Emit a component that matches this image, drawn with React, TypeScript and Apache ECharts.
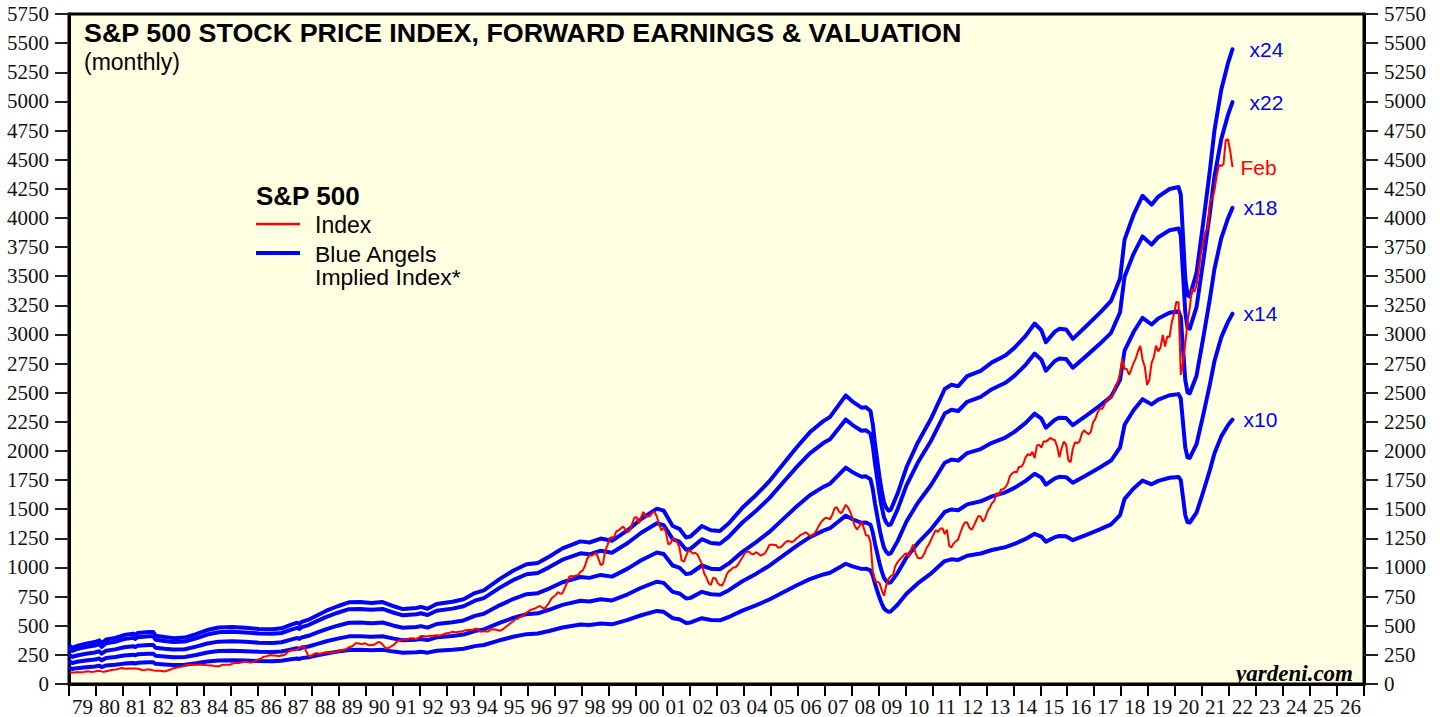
import React, { useEffect, useRef } from "react";
import * as echarts from "echarts";

const yearLabels = [
  "79","80","81","82","83","84","85","86","87","88","89","90","91","92","93","94",
  "95","96","97","98","99","00","01","02","03","04","05","06","07","08","09","10",
  "11","12","13","14","15","16","17","18","19","20","21","22","23","24","25","26",
];

const spxStartYear = 1979;
// S&P 500 index, monthly averages, Jan 1979 .. Feb 2022
const spxMonthly = [
  98, 98, 99, 102, 100, 101, 103, 107, 109, 106, 104, 107,
  111, 114, 108, 104, 109, 113, 118, 122, 124, 127, 134, 138,
  133, 130, 134, 134, 133, 132, 131, 127, 120, 119, 124, 125,
  122, 117, 113, 114, 114, 111, 108, 113, 120, 127, 136, 140,
  143, 147, 151, 159, 163, 165, 165, 164, 165, 165, 165, 166,
  164, 160, 158, 160, 155, 152, 152, 159, 166, 166, 165, 165,
  173, 180, 181, 180, 185, 191, 191, 190, 185, 186, 196, 207,
  212, 219, 233, 237, 242, 249, 244, 245, 242, 238, 247, 246,
  258, 279, 288, 290, 289, 297, 311, 324, 326, 280, 242, 240,
  252, 263, 263, 260, 262, 268, 273, 267, 267, 276, 276, 276,
  288, 293, 292, 302, 315, 319, 332, 349, 350, 345, 343, 350,
  341, 331, 336, 335, 346, 360, 357, 339, 314, 305, 313, 326,
  337, 356, 371, 375, 383, 381, 380, 392, 392, 390, 384, 396,
  413, 411, 408, 409, 415, 412, 416, 419, 416, 418, 425, 434,
  437, 441, 448, 446, 445, 450, 449, 456, 461, 463, 465, 464,
  474, 474, 457, 448, 454, 450, 451, 467, 469, 468, 463, 457,
  465, 479, 494, 508, 524, 539, 554, 562, 573, 583, 594, 611,
  626, 638, 643, 650, 662, 670, 655, 646, 670, 696, 731, 749,
  764, 789, 774, 779, 825, 867, 920, 927, 923, 931, 935, 963,
  975, 1015, 1076, 1107, 1101, 1112, 1127, 1075, 1020, 1032, 1144, 1190,
  1254, 1259, 1262, 1311, 1319, 1337, 1351, 1325, 1302, 1323, 1376, 1429,
  1432, 1381, 1433, 1476, 1437, 1438, 1443, 1474, 1477, 1433, 1372, 1318,
  1343, 1303, 1200, 1205, 1253, 1240, 1218, 1172, 1060, 1050, 1100, 1144,
  1139, 1119, 1127, 1112, 1072, 1029, 951, 914, 866, 851, 911, 908,
  868, 849, 845, 883, 940, 969, 982, 999, 1002, 1023, 1055, 1085,
  1122, 1138, 1136, 1117, 1114, 1131, 1121, 1103, 1109, 1122, 1152, 1193,
  1197, 1193, 1192, 1169, 1174, 1191, 1213, 1227, 1225, 1218, 1228, 1249,
  1264, 1280, 1288, 1303, 1290, 1270, 1274, 1290, 1320, 1357, 1389, 1410,
  1428, 1423, 1414, 1452, 1507, 1517, 1479, 1465, 1500, 1538, 1515, 1475,
  1424, 1355, 1327, 1354, 1393, 1340, 1274, 1275, 1217, 969, 883, 878,
  866, 806, 757, 848, 902, 926, 935, 1010, 1044, 1068, 1088, 1110,
  1123, 1089, 1152, 1197, 1126, 1083, 1079, 1087, 1122, 1171, 1198, 1242,
  1282, 1321, 1304, 1332, 1338, 1287, 1325, 1185, 1173, 1207, 1226, 1243,
  1300, 1352, 1389, 1386, 1341, 1323, 1359, 1403, 1443, 1437, 1394, 1422,
  1480, 1512, 1551, 1570, 1639, 1619, 1669, 1671, 1688, 1721, 1784, 1807,
  1822, 1817, 1864, 1864, 1890, 1947, 1973, 1962, 1993, 1938, 2045, 2055,
  2029, 2083, 2080, 2095, 2112, 2099, 2094, 2040, 1945, 2024, 2080, 2054,
  1919, 1904, 2022, 2075, 2066, 2084, 2149, 2177, 2158, 2143, 2165, 2247,
  2275, 2330, 2367, 2359, 2395, 2434, 2454, 2456, 2493, 2557, 2594, 2664,
  2790, 2705, 2703, 2654, 2701, 2754, 2794, 2858, 2902, 2785, 2723, 2567,
  2607, 2754, 2804, 2903, 2854, 2890, 2996, 2897, 2982, 2977, 3104, 3176,
  3278, 3277, 2652, 2762, 2920, 3105, 3230, 3391, 3365, 3419, 3549, 3695,
  3793, 3883, 3911, 4141, 4168, 4238, 4364, 4454, 4446, 4461, 4667, 4675,
  4573, 4436,
];

// S&P 500 forward earnings (dollars per share), month -> value
const fwdEarnings: [string, number][] = [
  ["1979-01", 13.6], ["1979-02", 12.9], ["1979-04", 13.6], ["1979-08", 14.4], ["1979-12", 15.0],
  ["1980-02", 15.6], ["1980-03", 14.5], ["1980-05", 15.9], ["1980-09", 16.5],
  ["1981-01", 17.5], ["1981-05", 18.0], ["1981-06", 17.6], ["1981-07", 18.2], ["1981-12", 18.6],
  ["1982-02", 18.6], ["1982-03", 17.3], ["1982-07", 16.8], ["1982-11", 16.4],
  ["1983-04", 16.6], ["1983-09", 17.8], ["1984-02", 19.3], ["1984-07", 20.2],
  ["1985-01", 20.4], ["1985-07", 20.1], ["1986-01", 19.7], ["1986-07", 19.6], ["1986-11", 19.9],
  ["1987-04", 21.4], ["1987-06", 21.9], ["1987-07", 21.5], ["1987-08", 22.2], ["1987-11", 23.0],
  ["1988-03", 24.6], ["1988-07", 26.2], ["1988-12", 27.8], ["1989-05", 29.2], ["1989-10", 29.3],
  ["1990-03", 29.0], ["1990-08", 29.3], ["1991-01", 27.8], ["1991-05", 26.8], ["1991-11", 27.2],
  ["1992-01", 27.6], ["1992-04", 26.9], ["1992-08", 28.6], ["1993-03", 29.4], ["1993-08", 30.3],
  ["1994-01", 32.5], ["1994-05", 33.5], ["1994-12", 37.5], ["1995-06", 40.5], ["1995-12", 42.8],
  ["1996-05", 43.3], ["1996-10", 45.5], ["1997-04", 48.5], ["1997-12", 51.0], ["1998-04", 50.6],
  ["1998-09", 52.0], ["1999-02", 51.2], ["1999-09", 55.0], ["2000-03", 59.0], ["2000-10", 62.7],
  ["2001-01", 62.0], ["2001-05", 56.5], ["2001-08", 55.5], ["2001-11", 52.4], ["2002-01", 52.8],
  ["2002-06", 56.5], ["2002-10", 55.0], ["2003-02", 54.7], ["2003-06", 57.5], ["2003-12", 63.0],
  ["2004-06", 67.5], ["2004-12", 72.5], ["2005-06", 78.5], ["2005-12", 84.5], ["2006-06", 90.0],
  ["2006-12", 94.0], ["2007-03", 95.5], ["2007-10", 103.2], ["2008-01", 101.0], ["2008-05", 98.8],
  ["2008-07", 99.0], ["2008-09", 97.6], ["2008-10", 93.0], ["2008-11", 86.0], ["2008-12", 80.0],
  ["2009-01", 74.0], ["2009-02", 69.0], ["2009-03", 65.0], ["2009-04", 63.0], ["2009-05", 62.0],
  ["2009-06", 62.3], ["2009-09", 68.0], ["2010-01", 77.5], ["2010-06", 86.3], ["2010-12", 95.0],
  ["2011-06", 105.5], ["2011-09", 107.0], ["2011-12", 106.5], ["2012-04", 110.1], ["2012-10", 112.0],
  ["2013-03", 115.0], ["2013-09", 117.5], ["2014-01", 120.2], ["2014-06", 124.5], ["2014-10", 128.9],
  ["2015-01", 126.5], ["2015-03", 122.2], ["2015-07", 126.0], ["2015-09", 127.0], ["2015-12", 126.8],
  ["2016-03", 123.4], ["2016-09", 128.0], ["2017-03", 132.7], ["2017-08", 137.0], ["2017-12", 145.0],
  ["2018-01", 152.0], ["2018-02", 158.9], ["2018-06", 167.8], ["2018-10", 174.6], ["2019-02", 171.4],
  ["2019-05", 174.3], ["2019-10", 177.0], ["2020-02", 177.7], ["2020-03", 175.0], ["2020-04", 160.0],
  ["2020-05", 145.0], ["2020-06", 139.0], ["2020-07", 138.6], ["2020-10", 147.0], ["2021-01", 165.0],
  ["2021-04", 184.0], ["2021-06", 198.0], ["2021-09", 212.5], ["2021-12", 222.0], ["2022-02", 227.0],
];

const multiples = [24, 22, 18, 14, 10];
const lastMonthLabel = "Feb";

const BLUE = "#0000FF";
const RED = "#FF0000";
const SANS = '"Liberation Sans", Arial, sans-serif';
const SERIF = '"Liberation Serif", "Times New Roman", serif';

const toYear = (ym: string) => {
  const [y, m] = ym.split("-").map(Number);
  return y + (m - 0.5) / 12;
};

export default function App() {
  const ref = useRef<HTMLDivElement>(null);
  useEffect(() => {
    if (!ref.current) return;
    const chart = echarts.init(ref.current, null, { renderer: "svg" });

    const spxData = spxMonthly.map((v, i) => [spxStartYear + (i + 0.5) / 12, v]);

    const blueSeries = multiples.map((mult) => ({
      name: "x" + mult,
      type: "line",
      xAxisIndex: 0,
      yAxisIndex: 0,
      showSymbol: false,
      symbol: "none",
      data: fwdEarnings.map(([d, e]) => [toYear(d), e * mult]),
      lineStyle: { color: BLUE, width: 4, join: "round", cap: "round" },
      itemStyle: { color: BLUE },
      z: 2,
      endLabel: {
        show: true,
        formatter: "x" + mult,
        color: BLUE,
        fontFamily: SANS,
        fontSize: 21,
        distance: mult >= 22 ? 17 : 11,
      },
    }));

    const yAxisCommon = {
      type: "value",
      min: 0,
      max: 5750,
      interval: 250,
      axisLine: { show: true, lineStyle: { color: "#000", width: 3 } },
      axisTick: { show: true, inside: false, length: 14, lineStyle: { color: "#222", width: 2 } },
      axisLabel: {
        show: true,
        margin: 20,
        fontFamily: SERIF,
        fontSize: 21,
        color: "#111",
        hideOverlap: false,
        formatter: (v: number) => String(v),
      },
      splitLine: { show: false },
    };

    chart.setOption({
      animation: false,
      backgroundColor: "#FFFFFF",
      grid: {
        left: 69,
        right: 82,
        top: 14,
        bottom: 32,
        show: true,
        backgroundColor: "#FFFFE2",
        borderColor: "#000",
        borderWidth: 3,
      },
      xAxis: [
        {
          type: "value",
          min: 1979,
          max: 2027,
          interval: 1,
          position: "bottom",
          axisLine: { show: true, onZero: false, lineStyle: { color: "#000", width: 3 } },
          axisTick: { show: true, inside: false, length: 12, lineStyle: { color: "#000", width: 2 } },
          axisLabel: { show: false },
          splitLine: { show: false },
        },
        {
          type: "category",
          data: yearLabels,
          position: "bottom",
          boundaryGap: true,
          axisLine: { show: false },
          axisTick: { show: false },
          axisLabel: {
            show: true,
            interval: 0,
            margin: 12,
            fontFamily: SERIF,
            fontSize: 21,
            color: "#111",
          },
          splitLine: { show: false },
        },
      ],
      yAxis: [
        { ...yAxisCommon, position: "left" },
        { ...yAxisCommon, position: "right" },
      ],
      series: [
        ...blueSeries,
        {
          name: "Index",
          type: "line",
          xAxisIndex: 0,
          yAxisIndex: 0,
          showSymbol: false,
          symbol: "none",
          data: spxData,
          lineStyle: { color: RED, width: 2 },
          itemStyle: { color: RED },
          z: 3,
          endLabel: {
            show: true,
            formatter: lastMonthLabel,
            color: RED,
            fontFamily: SANS,
            fontSize: 21,
            distance: 8,
          },
        },
      ],
      graphic: [
        {
          type: "text",
          x: 84,
          y: 33,
          scaleX: 1.076,
          style: {
            text: "S&P 500 STOCK PRICE INDEX, FORWARD EARNINGS & VALUATION",
            fill: "#000",
            font: "bold 25px " + SANS,
            verticalAlign: "middle",
          },
        },
        {
          type: "text",
          x: 84,
          y: 62,
          style: { text: "(monthly)", fill: "#000", font: "23px " + SANS, verticalAlign: "middle" },
        },
        {
          type: "text",
          x: 256,
          y: 196,
          style: { text: "S&P 500", fill: "#000", font: "bold 26px " + SANS, verticalAlign: "middle" },
        },
        {
          type: "line",
          shape: { x1: 256, y1: 224, x2: 300, y2: 224 },
          style: { stroke: RED, lineWidth: 2.5 },
        },
        {
          type: "text",
          x: 315,
          y: 225,
          style: { text: "Index", fill: "#000", font: "23px " + SANS, verticalAlign: "middle" },
        },
        {
          type: "line",
          shape: { x1: 256, y1: 253, x2: 300, y2: 253 },
          style: { stroke: BLUE, lineWidth: 4 },
        },
        {
          type: "text",
          x: 315,
          y: 255,
          scaleX: 1.045,
          style: {
            text: "Blue Angels",
            fill: "#000",
            font: "22px " + SANS,
            lineHeight: 22,
            verticalAlign: "middle",
          },
        },
        {
          type: "text",
          x: 315,
          y: 277.5,
          scaleX: 1.045,
          style: {
            text: "Implied Index*",
            fill: "#000",
            font: "22px " + SANS,
            lineHeight: 22,
            verticalAlign: "middle",
          },
        },
        {
          type: "text",
          x: 1353,
          y: 673,
          style: {
            text: "yardeni.com",
            fill: "#000",
            font: "italic bold 23px " + SERIF,
            align: "right",
            verticalAlign: "middle",
          },
        },
      ],
    });

    return () => chart.dispose();
  }, []);

  return (
    <div
      ref={ref}
      style={{ position: "absolute", left: 0, top: 0, width: 1446, height: 717 }}
    />
  );
}
